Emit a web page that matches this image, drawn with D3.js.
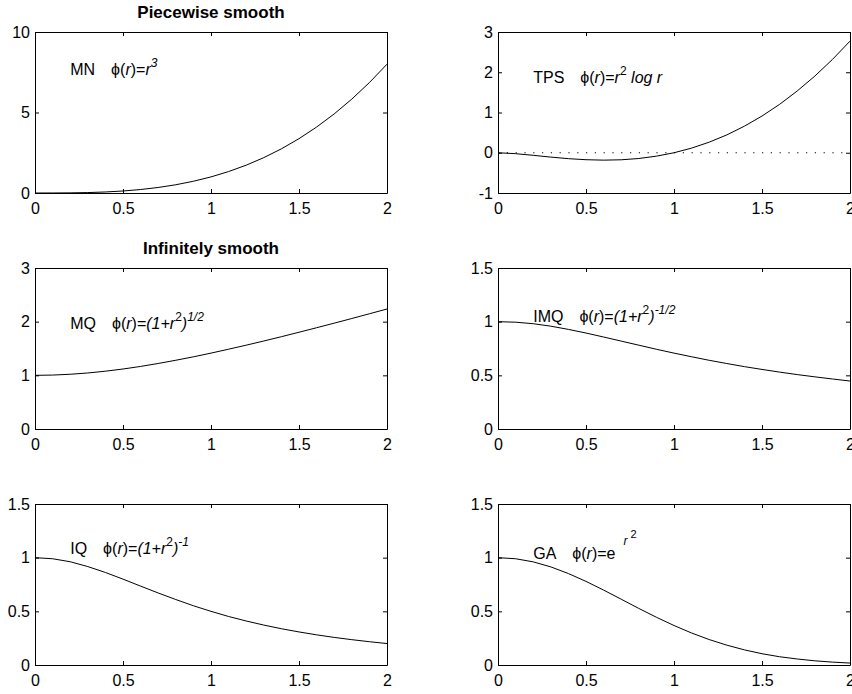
<!DOCTYPE html>
<html><head><meta charset="utf-8">
<script src="https://cdn.jsdelivr.net/npm/d3@7"></script>
<style>
body{margin:0;background:#fff;}
svg{display:block;font-family:"Liberation Sans",Arial,Helvetica,sans-serif;}
text{white-space:pre;}
</style></head><body>
<svg id="chart" width="852" height="694"></svg>
<script>
// r values (x axis)
const r = [0,0.1,0.2,0.3,0.4,0.5,0.6,0.7,0.8,0.9,1.0,1.1,1.2,1.3,1.4,1.5,1.6,1.7,1.8,1.9,2.0];
// series values
const mnValues  = [0,0.001,0.008,0.027,0.064,0.125,0.216,0.343,0.512,0.729,1,1.331,1.728,2.197,2.744,3.375,4.096,4.913,5.832,6.859,8];
const tpsValues = [0,-0.023,-0.064,-0.108,-0.147,-0.173,-0.184,-0.175,-0.143,-0.085,0,0.115,0.263,0.443,0.660,0.912,1.203,1.534,1.904,2.317,2.773];
const mqValues  = [1,1.005,1.020,1.044,1.077,1.118,1.166,1.221,1.281,1.345,1.414,1.487,1.562,1.640,1.720,1.803,1.887,1.972,2.059,2.147,2.236];
const imqValues = [1,0.995,0.981,0.958,0.928,0.894,0.857,0.819,0.781,0.743,0.707,0.673,0.640,0.610,0.581,0.555,0.530,0.507,0.486,0.466,0.447];
const iqValues  = [1,0.990,0.962,0.917,0.862,0.800,0.735,0.671,0.610,0.552,0.500,0.452,0.410,0.372,0.338,0.308,0.281,0.257,0.236,0.217,0.200];
const gaValues  = [1,0.990,0.961,0.914,0.852,0.779,0.698,0.613,0.527,0.445,0.368,0.298,0.237,0.185,0.141,0.105,0.077,0.056,0.039,0.027,0.018];
// tick labels
const xTicks = [0,0.5,1,1.5,2];
const yTicksMN = [0,5,10];
const yTicksTPS = [-1,0,1,2,3];
const yTicksMQ = [0,1,2,3];
const yTicksHalf = [0,0.5,1,1.5];
// names / titles
const names = ["MN","TPS","MQ","IMQ","IQ","GA"];
const titles = ["Piecewise smooth","","Infinitely smooth","","",""];

const PHI = "\u03D5";
const panels = [
  {name:names[0], values:mnValues,  yDomain:[0,10],   yTicks:yTicksMN,  labelY:7.35, title:titles[0],
   formula:[{t:PHI+"("},{t:"r",i:1},{t:")="},{t:"r",i:1},{t:"3",s:1,i:1}]},
  {name:names[1], values:tpsValues, yDomain:[-1,3],   yTicks:yTicksTPS, labelY:1.73, title:titles[1], zeroLine:true,
   formula:[{t:PHI+"("},{t:"r",i:1},{t:")="},{t:"r",i:1},{t:"2",s:1},{t:" log r",i:1}]},
  {name:names[2], values:mqValues,  yDomain:[0,3],    yTicks:yTicksMQ,  labelY:1.87, title:titles[2],
   formula:[{t:PHI+"("},{t:"r",i:1},{t:")="},{t:"(1+r",i:1},{t:"2",s:1},{t:")",i:1},{t:"1/2",s:1,i:1}]},
  {name:names[3], values:imqValues, yDomain:[0,1.5],  yTicks:yTicksHalf, labelY:1.0, title:titles[3],
   formula:[{t:PHI+"("},{t:"r",i:1},{t:")="},{t:"(1+r",i:1},{t:"2",s:1},{t:")",i:1},{t:"-1/2",s:1,i:1}]},
  {name:names[4], values:iqValues,  yDomain:[0,1.5],  yTicks:yTicksHalf, labelY:1.03, title:titles[4],
   formula:[{t:PHI+"("},{t:"r",i:1},{t:")="},{t:"(1+r",i:1},{t:"2",s:1},{t:")",i:1},{t:"-1",s:1,i:1}]},
  {name:names[5], values:gaValues,  yDomain:[0,1.5],  yTicks:yTicksHalf, labelY:0.985, title:titles[5],
   formula:[{t:PHI+"("},{t:"r",i:1},{t:")=e"},{t:"r",s:2,i:1,dx:8},{t:"2",s:3,dx:3}]}
];

const svg = d3.select("#chart");
const W = 352, H = 161;
const colX = [35, 498];
const rowY = [32, 268, 504];
const FS = 16;
const supShift = {1:8, 2:14, 3:21};
const supSize = {1:12, 2:12, 3:11};

panels.forEach((p, idx) => {
  const gx = colX[idx % 2], gy = rowY[Math.floor(idx / 2)];
  const g = svg.append("g").attr("transform", `translate(${gx},${gy})`);
  const x = d3.scaleLinear().domain([0,2]).range([0,W]);
  const y = d3.scaleLinear().domain(p.yDomain).range([H,0]);

  const fmt = d => String(d);
  const bottom = g.append("g").attr("transform",`translate(0,${H})`)
    .call(d3.axisBottom(x).tickValues(xTicks).tickFormat(fmt).tickSizeInner(-4).tickSizeOuter(0).tickPadding(10));
  const top = g.append("g")
    .call(d3.axisTop(x).tickValues(xTicks).tickFormat("").tickSizeInner(-4).tickSizeOuter(0));
  const left = g.append("g")
    .call(d3.axisLeft(y).tickValues(p.yTicks).tickFormat(fmt).tickSizeInner(-4).tickSizeOuter(0).tickPadding(5));
  const right = g.append("g").attr("transform",`translate(${W},0)`)
    .call(d3.axisRight(y).tickValues(p.yTicks).tickFormat("").tickSizeInner(-4).tickSizeOuter(0));
  [bottom, top, left, right].forEach(a => {
    a.selectAll("text").attr("font-size", FS).attr("font-family", null).attr("fill","#000");
    a.selectAll("line,path").attr("stroke","#000").attr("stroke-width",1);
  });

  if (p.zeroLine) {
    g.append("line").attr("x1", x(0)).attr("x2", x(2)).attr("y1", y(0)).attr("y2", y(0))
      .attr("stroke","#000").attr("stroke-width",1).attr("stroke-dasharray","1.2,7.6");
  }

  const line = d3.line().x((d,i) => x(r[i])).y(d => y(d));
  g.append("path").datum(p.values).attr("d", line)
    .attr("fill","none").attr("stroke","#000").attr("stroke-width",1);

  if (p.title) {
    g.append("text").attr("x", W/2).attr("y", -14).attr("text-anchor","middle")
      .attr("font-size",17).attr("font-weight","bold").text(p.title);
  }

  const nameText = g.append("text").attr("x", x(0.2)).attr("y", y(p.labelY))
    .attr("font-size", FS).text(p.name);
  const nw = nameText.node().getComputedTextLength();
  const ft = g.append("text").attr("x", x(0.2) + nw + 16).attr("y", y(p.labelY))
    .attr("font-size", FS).attr("xml:space","preserve");
  let cur = 0;
  p.formula.forEach(seg => {
    const lvl = seg.s || 0;
    const shift = lvl ? supShift[lvl] : 0;
    ft.append("tspan").attr("dy", -(shift - cur)).attr("dx", seg.dx || 0)
      .attr("font-size", lvl ? supSize[lvl] : FS)
      .attr("font-style", seg.i ? "italic" : "normal")
      .text(seg.t);
    cur = shift;
  });
});
</script>
</body></html>
